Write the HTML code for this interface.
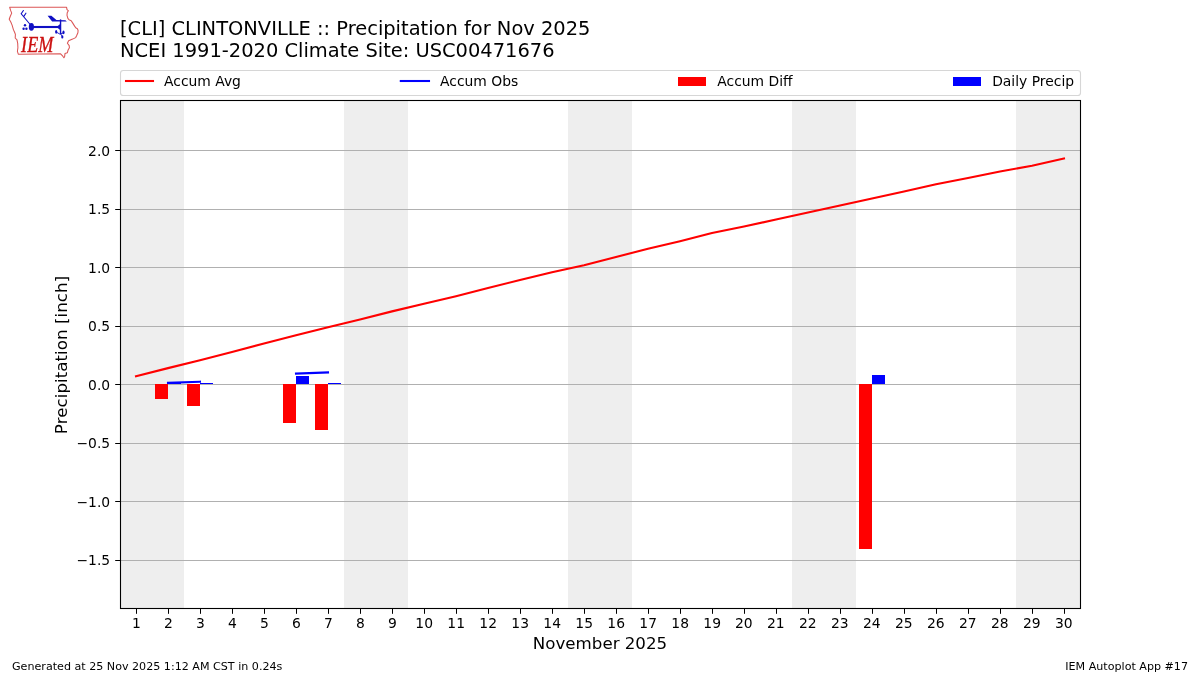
<!DOCTYPE html>
<html lang="en"><head><meta charset="utf-8"><title>[CLI] CLINTONVILLE :: Precipitation for Nov 2025</title>
<style>html,body{margin:0;padding:0;background:#fff;}body{width:1200px;height:675px;overflow:hidden;}svg{display:block;}text{font-family:"DejaVu Sans","Liberation Sans",sans-serif;fill:#000;}</style></head><body>
<svg width="1200" height="675" viewBox="0 0 1200 675">
<rect x="0" y="0" width="1200" height="675" fill="#ffffff"/>
<rect x="120" y="101" width="64" height="508" fill="#eeeeee"/>
<rect x="344" y="101" width="64" height="508" fill="#eeeeee"/>
<rect x="568" y="101" width="64" height="508" fill="#eeeeee"/>
<rect x="792" y="101" width="64" height="508" fill="#eeeeee"/>
<rect x="1016" y="101" width="64" height="508" fill="#eeeeee"/>
<rect x="121" y="150" width="960" height="1" fill="#b0b0b0"/>
<rect x="121" y="209" width="960" height="1" fill="#b0b0b0"/>
<rect x="121" y="267" width="960" height="1" fill="#b0b0b0"/>
<rect x="121" y="326" width="960" height="1" fill="#b0b0b0"/>
<rect x="121" y="384" width="960" height="1" fill="#b0b0b0"/>
<rect x="121" y="443" width="960" height="1" fill="#b0b0b0"/>
<rect x="121" y="501" width="960" height="1" fill="#b0b0b0"/>
<rect x="121" y="560" width="960" height="1" fill="#b0b0b0"/>
<rect x="155" y="384" width="13" height="15.00" fill="#ff0000"/>
<rect x="187" y="384" width="13" height="22.00" fill="#ff0000"/>
<rect x="283" y="384" width="13" height="39.00" fill="#ff0000"/>
<rect x="315" y="384" width="13" height="46.00" fill="#ff0000"/>
<rect x="859" y="384" width="13" height="165.00" fill="#ff0000"/>
<rect x="168" y="383" width="13" height="1.00" fill="#0000ff"/>
<rect x="200" y="383" width="13" height="1.00" fill="#0000ff"/>
<rect x="296" y="376" width="13" height="8.00" fill="#0000ff"/>
<rect x="328" y="383" width="13" height="1.00" fill="#0000ff"/>
<rect x="872" y="375" width="13" height="9.00" fill="#0000ff"/>
<polyline points="136.0,376.31 168.0,368.12 200.0,360.16 232.0,351.97 264.0,343.55 296.0,335.36 328.0,327.17 360.0,319.56 392.0,311.38 424.0,303.77 456.0,296.17 488.0,287.98 520.0,280.02 552.0,272.18 584.0,265.16 616.0,256.97 648.0,248.78 680.0,241.17 712.0,232.99 744.0,226.55 776.0,219.53 808.0,212.51 840.0,205.49 872.0,198.47 904.0,191.45 936.0,184.20 968.0,178.00 1000.0,171.56 1032.0,165.71 1064.0,158.46" fill="none" stroke="#ff0000" stroke-width="2.08" stroke-linecap="square" stroke-linejoin="round"/>
<path d="M168 382.8L200 381.7M296 373.6L328 372.4" fill="none" stroke="#0000ff" stroke-width="2.08" stroke-linecap="square"/>
<rect x="120.5" y="100.5" width="960" height="508" fill="none" stroke="#000" stroke-width="1.1"/>
<rect x="136" y="609" width="1" height="4.8" fill="#000"/>
<text x="136.4" y="628" font-size="13.89" text-anchor="middle">1</text>
<rect x="168" y="609" width="1" height="4.8" fill="#000"/>
<text x="168.4" y="628" font-size="13.89" text-anchor="middle">2</text>
<rect x="200" y="609" width="1" height="4.8" fill="#000"/>
<text x="200.4" y="628" font-size="13.89" text-anchor="middle">3</text>
<rect x="232" y="609" width="1" height="4.8" fill="#000"/>
<text x="232.4" y="628" font-size="13.89" text-anchor="middle">4</text>
<rect x="264" y="609" width="1" height="4.8" fill="#000"/>
<text x="264.4" y="628" font-size="13.89" text-anchor="middle">5</text>
<rect x="296" y="609" width="1" height="4.8" fill="#000"/>
<text x="296.4" y="628" font-size="13.89" text-anchor="middle">6</text>
<rect x="328" y="609" width="1" height="4.8" fill="#000"/>
<text x="328.4" y="628" font-size="13.89" text-anchor="middle">7</text>
<rect x="360" y="609" width="1" height="4.8" fill="#000"/>
<text x="360.4" y="628" font-size="13.89" text-anchor="middle">8</text>
<rect x="392" y="609" width="1" height="4.8" fill="#000"/>
<text x="392.4" y="628" font-size="13.89" text-anchor="middle">9</text>
<rect x="424" y="609" width="1" height="4.8" fill="#000"/>
<text x="424.2" y="628" font-size="13.89" text-anchor="middle">10</text>
<rect x="456" y="609" width="1" height="4.8" fill="#000"/>
<text x="456.2" y="628" font-size="13.89" text-anchor="middle">11</text>
<rect x="488" y="609" width="1" height="4.8" fill="#000"/>
<text x="488.2" y="628" font-size="13.89" text-anchor="middle">12</text>
<rect x="520" y="609" width="1" height="4.8" fill="#000"/>
<text x="520.2" y="628" font-size="13.89" text-anchor="middle">13</text>
<rect x="552" y="609" width="1" height="4.8" fill="#000"/>
<text x="552.2" y="628" font-size="13.89" text-anchor="middle">14</text>
<rect x="584" y="609" width="1" height="4.8" fill="#000"/>
<text x="584.2" y="628" font-size="13.89" text-anchor="middle">15</text>
<rect x="616" y="609" width="1" height="4.8" fill="#000"/>
<text x="616.2" y="628" font-size="13.89" text-anchor="middle">16</text>
<rect x="648" y="609" width="1" height="4.8" fill="#000"/>
<text x="648.2" y="628" font-size="13.89" text-anchor="middle">17</text>
<rect x="680" y="609" width="1" height="4.8" fill="#000"/>
<text x="680.2" y="628" font-size="13.89" text-anchor="middle">18</text>
<rect x="712" y="609" width="1" height="4.8" fill="#000"/>
<text x="712.2" y="628" font-size="13.89" text-anchor="middle">19</text>
<rect x="744" y="609" width="1" height="4.8" fill="#000"/>
<text x="743.8" y="628" font-size="13.89" text-anchor="middle">20</text>
<rect x="776" y="609" width="1" height="4.8" fill="#000"/>
<text x="775.8" y="628" font-size="13.89" text-anchor="middle">21</text>
<rect x="808" y="609" width="1" height="4.8" fill="#000"/>
<text x="807.8" y="628" font-size="13.89" text-anchor="middle">22</text>
<rect x="840" y="609" width="1" height="4.8" fill="#000"/>
<text x="839.8" y="628" font-size="13.89" text-anchor="middle">23</text>
<rect x="872" y="609" width="1" height="4.8" fill="#000"/>
<text x="871.8" y="628" font-size="13.89" text-anchor="middle">24</text>
<rect x="904" y="609" width="1" height="4.8" fill="#000"/>
<text x="903.8" y="628" font-size="13.89" text-anchor="middle">25</text>
<rect x="936" y="609" width="1" height="4.8" fill="#000"/>
<text x="935.8" y="628" font-size="13.89" text-anchor="middle">26</text>
<rect x="968" y="609" width="1" height="4.8" fill="#000"/>
<text x="967.8" y="628" font-size="13.89" text-anchor="middle">27</text>
<rect x="1000" y="609" width="1" height="4.8" fill="#000"/>
<text x="999.8" y="628" font-size="13.89" text-anchor="middle">28</text>
<rect x="1032" y="609" width="1" height="4.8" fill="#000"/>
<text x="1031.8" y="628" font-size="13.89" text-anchor="middle">29</text>
<rect x="1064" y="609" width="1" height="4.8" fill="#000"/>
<text x="1063.8" y="628" font-size="13.89" text-anchor="middle">30</text>
<rect x="115.2" y="150" width="4.8" height="1" fill="#000"/>
<text x="110.2" y="156" font-size="13.89" text-anchor="end">2.0</text>
<rect x="115.2" y="209" width="4.8" height="1" fill="#000"/>
<text x="110.2" y="214" font-size="13.89" text-anchor="end">1.5</text>
<rect x="115.2" y="267" width="4.8" height="1" fill="#000"/>
<text x="110.2" y="273" font-size="13.89" text-anchor="end">1.0</text>
<rect x="115.2" y="326" width="4.8" height="1" fill="#000"/>
<text x="110.2" y="331" font-size="13.89" text-anchor="end">0.5</text>
<rect x="115.2" y="384" width="4.8" height="1" fill="#000"/>
<text x="110.2" y="390" font-size="13.89" text-anchor="end">0.0</text>
<rect x="115.2" y="443" width="4.8" height="1" fill="#000"/>
<text x="110.2" y="448" font-size="13.89" text-anchor="end">−0.5</text>
<rect x="115.2" y="501" width="4.8" height="1" fill="#000"/>
<text x="110.2" y="507" font-size="13.89" text-anchor="end">−1.0</text>
<rect x="115.2" y="560" width="4.8" height="1" fill="#000"/>
<text x="110.2" y="565" font-size="13.89" text-anchor="end">−1.5</text>
<text x="600" y="649.3" font-size="16.67" text-anchor="middle">November 2025</text>
<text transform="translate(67 355) rotate(-90)" font-size="16.67" text-anchor="middle" textLength="158.3" lengthAdjust="spacing">Precipitation [inch]</text>
<text x="120" y="34.8" font-size="19.44">[CLI] CLINTONVILLE :: Precipitation for Nov 2025</text>
<text x="120" y="57" font-size="19.44">NCEI 1991-2020 Climate Site: USC00471676</text>
<text x="12" y="669.9" font-size="11.11">Generated at 25 Nov 2025 1:12 AM CST in 0.24s</text>
<text x="1188" y="669.9" font-size="11.11" text-anchor="end">IEM Autoplot App #17</text>
<rect x="120.5" y="70.5" width="960" height="25" rx="2.8" ry="2.8" fill="#ffffff" stroke="#d6d6d6" stroke-width="1.1"/>
<path d="M126 81H153" stroke="#ff0000" stroke-width="2.08" stroke-linecap="square" fill="none"/>
<text x="164" y="86" font-size="13.89">Accum Avg</text>
<path d="M400.8 81H429" stroke="#0000ff" stroke-width="2.08" stroke-linecap="square" fill="none"/>
<text x="440" y="86" font-size="13.89">Accum Obs</text>
<rect x="678" y="77" width="28" height="9" fill="#ff0000"/>
<text x="717.3" y="86" font-size="13.89">Accum Diff</text>
<rect x="953" y="77" width="28" height="9" fill="#0000ff"/>
<text x="992.2" y="86" font-size="13.89">Daily Precip</text>
<g>
<path d="M9.7 7.3L66.6 7.3L67 9.6L68.3 10.7L67.2 12.7L67 15.3L67.9 18.4L69 19.8L71.2 20.7L72.6 22.9L74.3 25.6L75.7 27.8L77.4 28.7L78.1 30.5L77.9 32.7L76.8 35.3L75.7 37.6L72.6 39.1L68.6 40.7L67.4 43.3L69.2 45.6L69.4 47.8L68.1 50L67.4 52.7L65 53.6L64.6 56.7L63.9 57.8L62.8 56.2L60.6 53.8L18.3 54.2L17.4 51.3L17.9 47.8L17.7 43.3L17 39.8L15.2 38L15.4 34.4L14.6 32.2L13.4 29.6L12.1 25.1L10.8 22L9.2 19.3L10.3 16.2L11.7 13.1L10.6 10.4Z" fill="none" stroke="#db5555" stroke-width="1.05" stroke-linejoin="round"/>
<g fill="#1010c4" stroke="none">
<ellipse cx="31.4" cy="26.9" rx="2.6" ry="3.8"/>
<rect x="31.5" y="25.95" width="29" height="2.1"/>
<circle cx="25" cy="25.3" r="1.2"/><circle cx="23.6" cy="28.8" r="1.2"/><circle cx="26.4" cy="28.8" r="1.2"/>
<path d="M47.6 15.8L51.4 15.8L56.4 19.9L65.4 20.2L66.8 21.5L52.1 21.5Z"/>
<rect x="59.85" y="19.4" width="1.4" height="15"/>
<path d="M56.6 27L60.4 23.8L60.4 30.2Z"/>
<ellipse cx="56.2" cy="31.9" rx="1.1" ry="1.8"/><ellipse cx="63.5" cy="32.4" rx="1.1" ry="1.8"/><ellipse cx="62.3" cy="36.9" rx="1.1" ry="1.7"/>
</g>
<g fill="none" stroke="#1010c4" stroke-width="1.1" stroke-linecap="round">
<path d="M30.6 25L21.2 13.8L23.4 10.5M24 16.1L25.9 13.2"/>
<path d="M56.2 32L59.5 33.9L63.5 33M60.4 33.5L62.3 36.5" stroke-width="0.9"/>
</g>
<text x="21.1" y="51.6" font-size="23.4" textLength="32.2" lengthAdjust="spacingAndGlyphs" style="font-family:'Liberation Serif','DejaVu Serif',serif;font-style:italic;fill:#cc1111;stroke:#cc1111;stroke-width:0.35">IEM</text>
</g>

</svg></body></html>
